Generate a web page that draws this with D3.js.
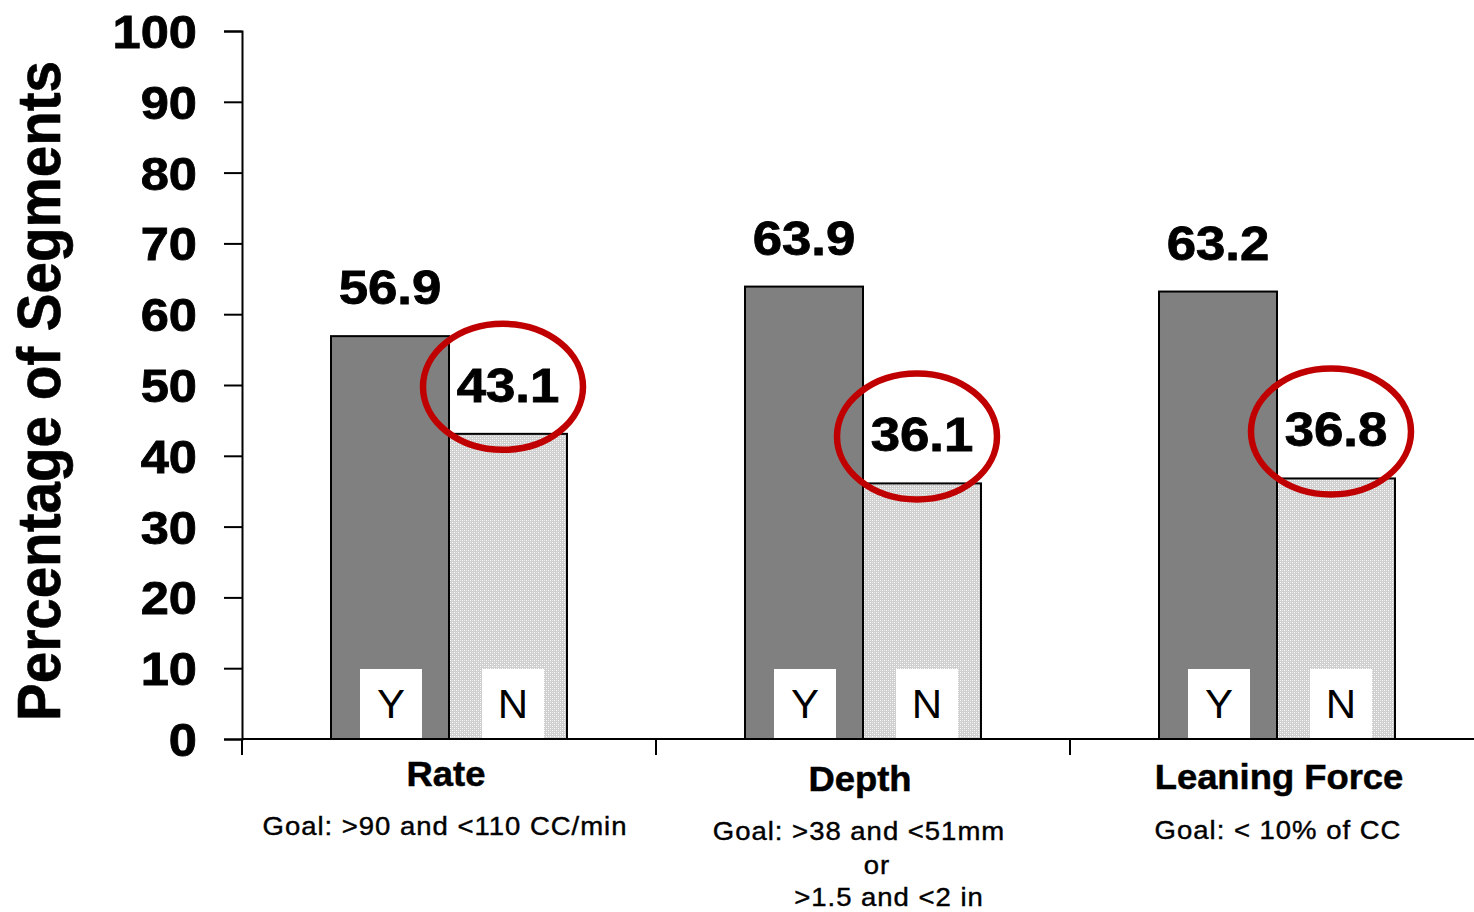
<!DOCTYPE html>
<html>
<head>
<meta charset="utf-8">
<script src="https://cdn.jsdelivr.net/npm/d3@7"></script>
<style>
  html, body { margin: 0; padding: 0; background: #fff; }
  svg { display: block; }
  text { font-family: "Liberation Sans", Arial, sans-serif; fill: #000; }
</style>
</head>
<body>
<svg id="chart" width="1474" height="912"></svg>
<script>
// Chest-compression quality measures: share of segments meeting (Y) or missing (N) each goal
const categories = ["Rate", "Depth", "Leaning Force"];
const goals = [
  ["Goal: >90 and <110 CC/min"],
  ["Goal: >38 and <51mm", "or", ">1.5 and <2 in"],
  ["Goal: < 10% of CC"]
];
const seriesKeys = ["Y", "N"];
const yesValues = [56.9, 63.9, 63.2];
const noValues = [43.1, 36.1, 36.8];
const yTicks = [0, 10, 20, 30, 40, 50, 60, 70, 80, 90, 100];
const yTitle = "Percentage of Segments";

const svg = d3.select("#chart");
const W = 1474, H = 912;
const plotLeft = 242, plotTop = 31, plotBottom = 739;
const STRETCH = 1.1;

// Pattern for the "N" bars: fine light-gray stipple
const defs = svg.append("defs");
const pat = defs.append("pattern")
  .attr("id", "stipple").attr("patternUnits", "userSpaceOnUse")
  .attr("width", 4).attr("height", 4);
pat.append("rect").attr("width", 4).attr("height", 4).attr("fill", "#cfcfcf");
pat.append("rect").attr("x", 0).attr("y", 0).attr("width", 1).attr("height", 1).attr("fill", "#ffffff");
pat.append("rect").attr("x", 2).attr("y", 2).attr("width", 1).attr("height", 1).attr("fill", "#ffffff");
pat.append("rect").attr("x", 2).attr("y", 0).attr("width", 1).attr("height", 1).attr("fill", "#e8e8e8");
pat.append("rect").attr("x", 0).attr("y", 2).attr("width", 1).attr("height", 1).attr("fill", "#e8e8e8");

const x = d3.scaleBand().domain(categories).range([plotLeft, plotLeft + 414 * 3]).padding(0);
const bw = x.bandwidth();
const xs = d3.scaleBand().domain(seriesKeys).range([bw * 0.215, bw * 0.785]).padding(0);
const y = d3.scaleLinear().domain([0, 100]).range([plotBottom, plotTop]);

const data = categories.map((c, i) => ({
  cat: c, goal: goals[i],
  bars: [{ key: "Y", v: yesValues[i] }, { key: "N", v: noValues[i] }]
}));

const groups = svg.append("g").selectAll("g").data(data).join("g")
  .attr("transform", d => `translate(${x(d.cat)},0)`);

// Bars
groups.selectAll("rect.bar").data(d => d.bars).join("rect")
  .attr("class", "bar")
  .attr("x", b => xs(b.key))
  .attr("y", b => y(b.v))
  .attr("width", xs.bandwidth())
  .attr("height", b => y(0) - y(b.v))
  .attr("fill", b => b.key === "Y" ? "#808080" : "url(#stipple)")
  .attr("stroke", "#000").attr("stroke-width", 2);

// White Y/N badges at the foot of each bar
groups.selectAll("rect.badge").data(d => d.bars).join("rect")
  .attr("class", "badge")
  .attr("x", b => xs(b.key) + xs.bandwidth() / 2 + (b.key === "Y" ? 1 : 5) - 31)
  .attr("y", 669)
  .attr("width", 62).attr("height", plotBottom - 669)
  .attr("fill", "#fff");
groups.selectAll("text.badge").data(d => d.bars).join("text")
  .attr("class", "badge")
  .attr("text-anchor", "middle")
  .attr("transform", b => `translate(${xs(b.key) + xs.bandwidth() / 2 + (b.key === "Y" ? 1 : 5)},718) scale(1.05,1)`)
  .attr("font-size", 40)
  .text(b => b.key);

// Value labels above bars
groups.selectAll("text.val").data(d => d.bars).join("text")
  .attr("class", "val")
  .attr("text-anchor", "middle")
  .attr("font-weight", "bold").attr("font-size", 48)
  .attr("stroke", "#000").attr("stroke-width", 0.8)
  .attr("transform", b => `translate(${xs(b.key) + xs.bandwidth() / 2},${y(b.v) - 32}) scale(${STRETCH},1)`)
  .text(b => b.v.toFixed(1));

// Red ellipses around the "N" values
groups.selectAll("ellipse").data(d => d.bars.filter(b => b.key === "N")).join("ellipse")
  .attr("cx", b => xs(b.key) + xs.bandwidth() / 2 - 5)
  .attr("cy", b => y(b.v) - 47)
  .attr("rx", 80).attr("ry", 63)
  .attr("fill", "none").attr("stroke", "#c00000").attr("stroke-width", 6.5);

// Y axis
const yAxis = svg.append("g").attr("transform", `translate(${plotLeft},0)`)
  .call(d3.axisLeft(y).tickValues(yTicks).tickSize(18).tickPadding(27).tickFormat(d3.format("d")));
yAxis.select(".domain").attr("stroke", "#000").attr("stroke-width", 2);
yAxis.selectAll(".tick line").attr("stroke", "#000").attr("stroke-width", 2);
yAxis.selectAll(".tick text")
  .attr("font-family", "Liberation Sans, Arial, sans-serif")
  .attr("font-size", 46).attr("font-weight", "bold")
  .attr("stroke", "#000").attr("stroke-width", 0.8)
  .attr("fill", "#000")
  .attr("x", -45 / STRETCH)
  .attr("dy", "0.36em")
  .attr("transform", `scale(${STRETCH},1)`);

// X axis baseline with category separator ticks
svg.append("line").attr("x1", plotLeft).attr("x2", W).attr("y1", plotBottom).attr("y2", plotBottom)
  .attr("stroke", "#000").attr("stroke-width", 2);
svg.append("g").selectAll("line").data(categories.map(c => x(c)).concat([x.range()[1]])).join("line")
  .attr("x1", d => d).attr("x2", d => d).attr("y1", plotBottom).attr("y2", plotBottom + 16)
  .attr("stroke", "#000").attr("stroke-width", 2);

// Category names and goal descriptions
const catLayout = [
  { cx: 446, by: 786, lines: [[445, 835]] },
  { cx: 860, by: 791, lines: [[859, 840], [877, 874], [889, 906]] },
  { cx: 1279, by: 789, lines: [[1278, 839]] }
];
data.forEach((d, i) => {
  const L = catLayout[i];
  svg.append("text").attr("text-anchor", "middle")
    .attr("transform", `translate(${L.cx},${L.by}) scale(1.04,1)`)
    .attr("font-size", 35).attr("font-weight", "bold")
    .attr("stroke", "#000").attr("stroke-width", 0.5)
    .text(d.cat);
  d.goal.forEach((g, j) => {
    svg.append("text").attr("text-anchor", "middle")
      .attr("transform", `translate(${L.lines[j][0]},${L.lines[j][1]}) scale(${STRETCH},1)`)
      .attr("font-size", 25).attr("letter-spacing", 0.9)
      .attr("stroke", "#000").attr("stroke-width", 0.4)
      .text(g);
  });
});

// Y axis title
svg.append("text").attr("text-anchor", "middle")
  .attr("transform", `translate(60,391) scale(1.08,1) rotate(-90)`)
  .attr("font-size", 56).attr("font-weight", "bold")
  .attr("stroke", "#000").attr("stroke-width", 0.6)
  .attr("textLength", 660).attr("lengthAdjust", "spacingAndGlyphs")
  .text(yTitle);
</script>
</body>
</html>
